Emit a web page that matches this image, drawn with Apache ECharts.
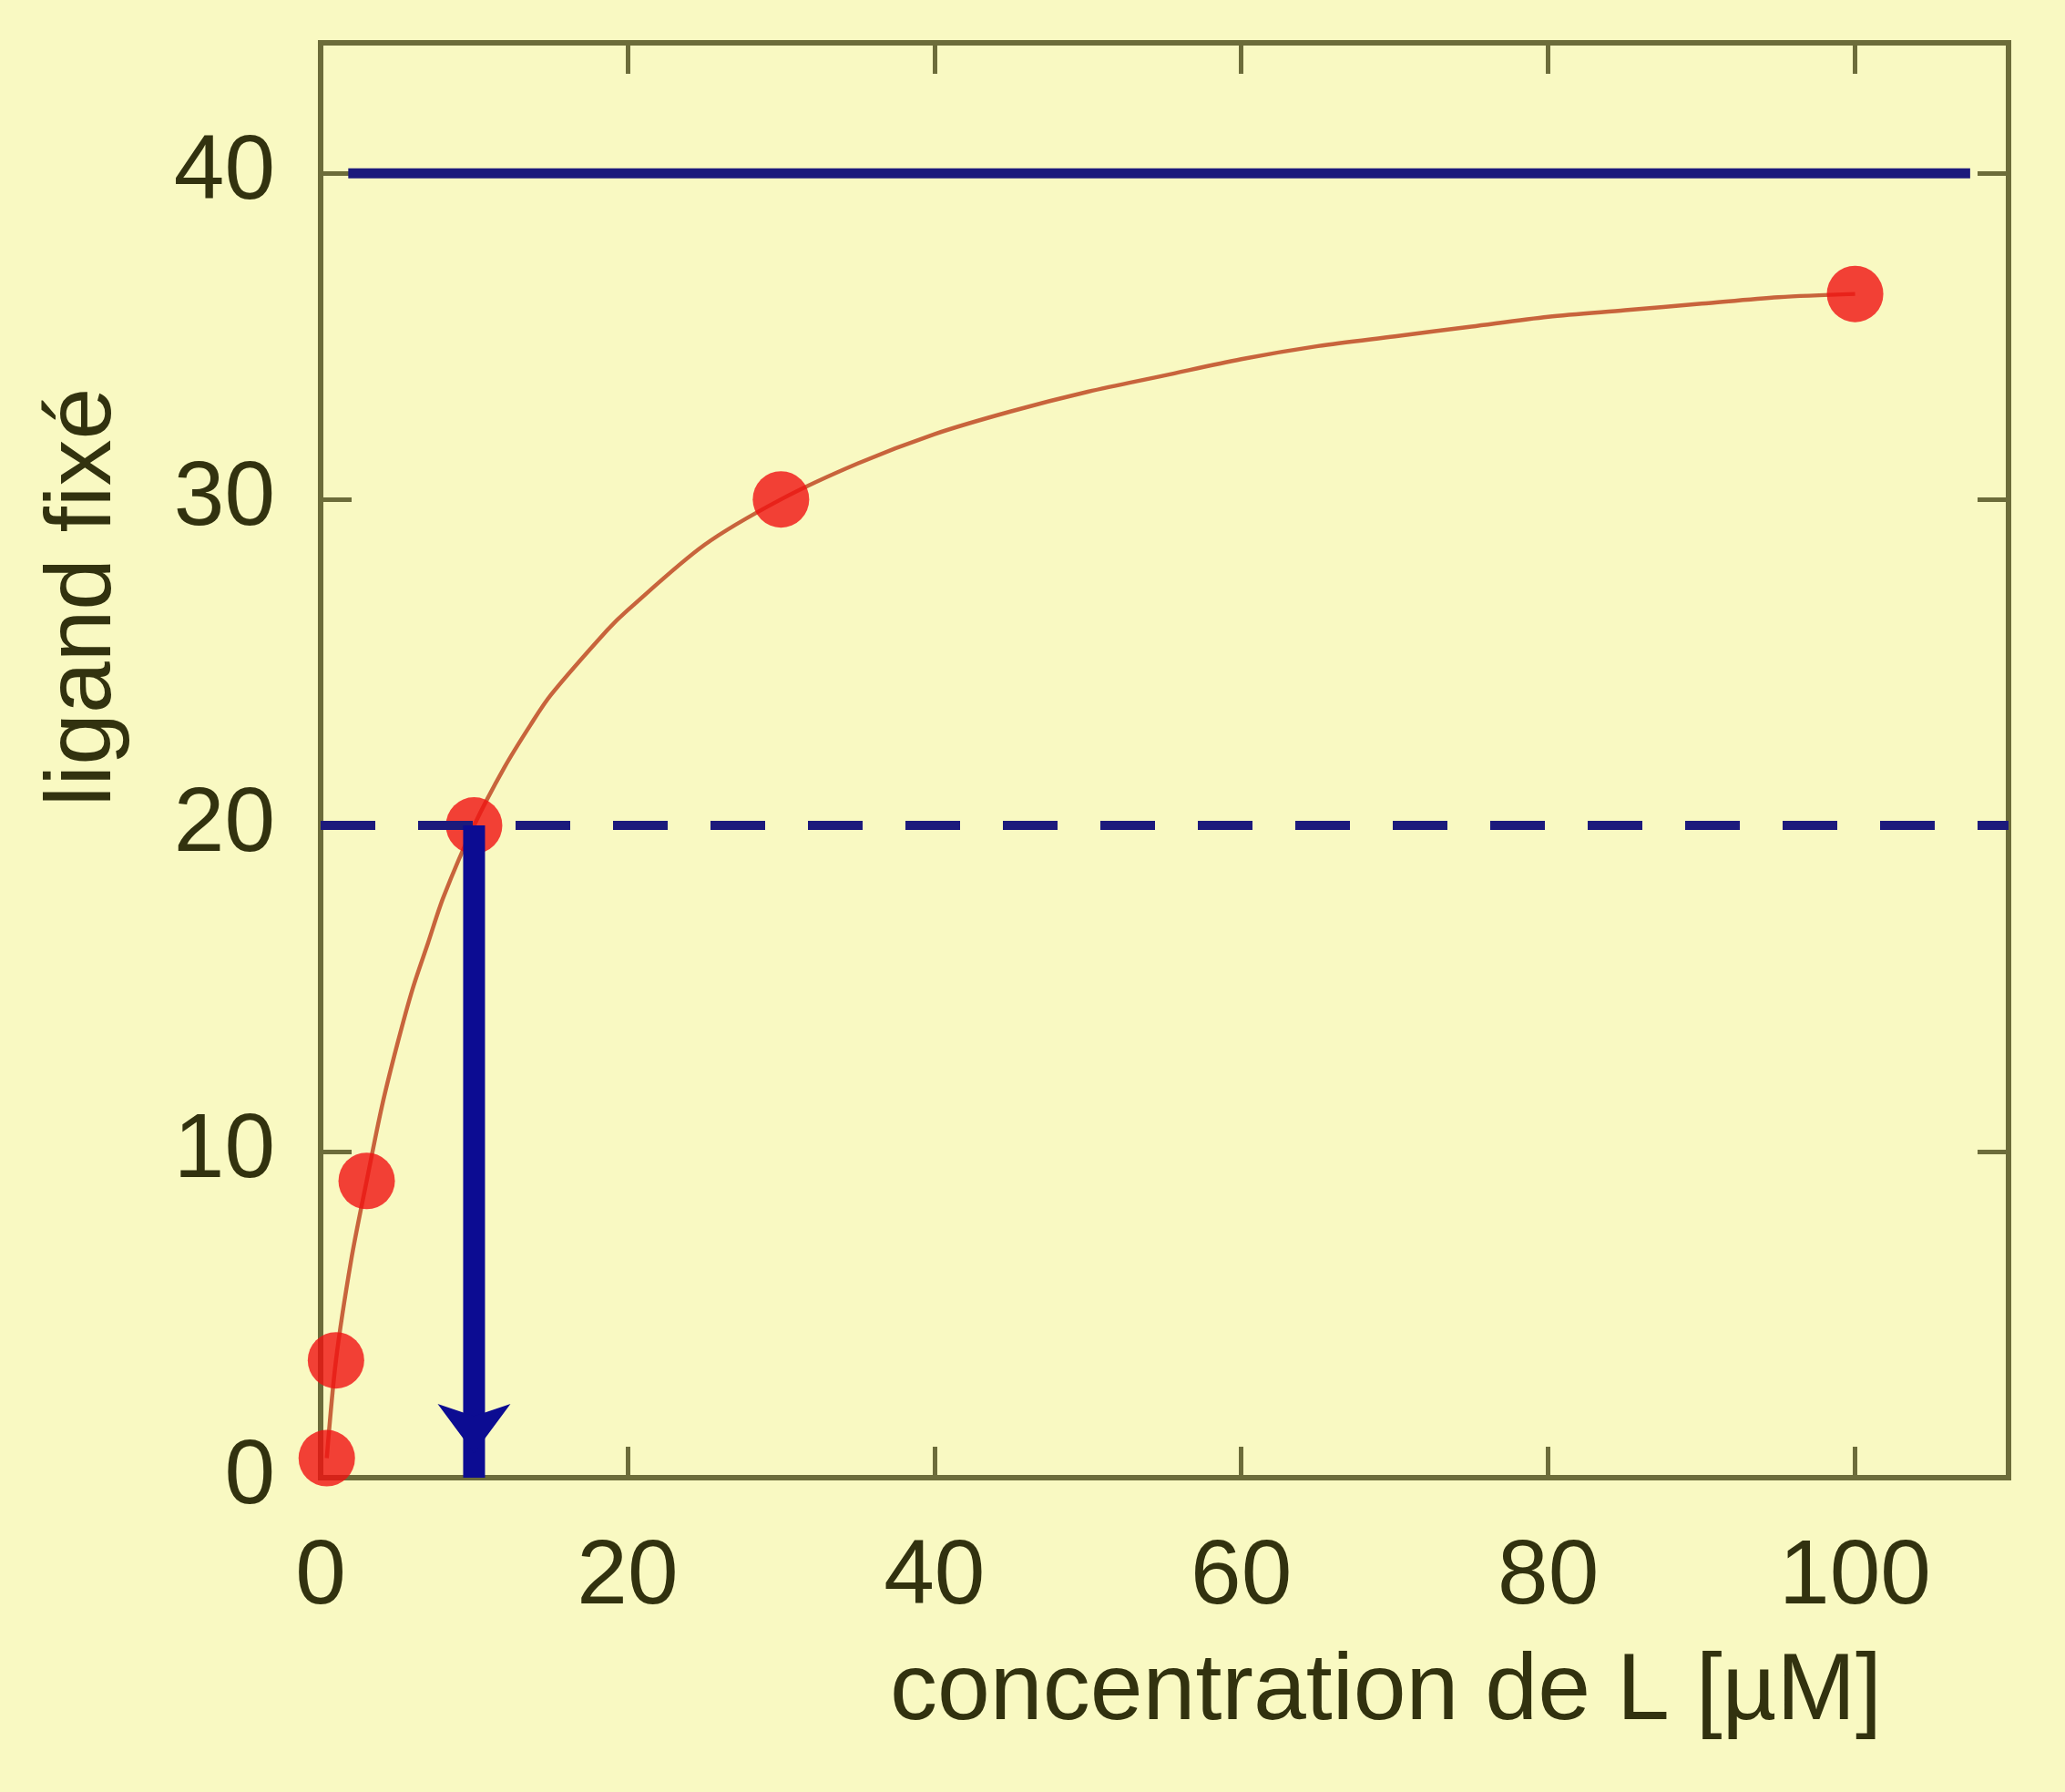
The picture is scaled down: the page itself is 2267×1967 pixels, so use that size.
<!DOCTYPE html>
<html>
<head>
<meta charset="utf-8">
<script src="https://cdn.jsdelivr.net/npm/echarts@6/dist/echarts.min.js"></script>
<style>
html,body{margin:0;padding:0;background:#f9f9c2;}
#chart{width:2267px;height:1967px;}
</style>
</head>
<body>
<div id="chart"></div>
<script>
// ---- data ----
const pointX = [0.4, 1, 3, 10, 30, 100];
const pointY = [0.6, 3.6, 9.1, 20, 30, 36.3];
const curveX = [0.4, 1, 2, 3, 4, 5, 6, 7, 8, 10, 12, 13.7, 15, 18.7, 20, 25, 30, 35, 40, 45, 50, 55, 60, 65, 70, 75, 80, 85, 90, 95, 100];
const curveY = [0.6, 3.6, 6.7, 9.1, 11.4, 13.3, 15.0, 16.4, 17.8, 20, 21.8, 23.1, 24.0, 26.0, 26.6, 28.6, 30, 31.1, 32.0, 32.7, 33.3, 33.8, 34.3, 34.7, 35.0, 35.3, 35.6, 35.8, 36.0, 36.2, 36.3];
const maxLineX = [1.8, 107.5];
const maxLineValue = 40;
const halfLineX = [0, 110];
const halfLineValue = 20;
const arrowX = 10;
const arrowY = [20, 0];
const xTicks = [0, 20, 40, 60, 80, 100];
const yTicks = [0, 10, 20, 30, 40];
const xTitle = 'concentration de L [µM]';
const yTitle = 'ligand fixé';

const olive = '#6c6c3a';
const textCol = '#32320f';
const navy = '#1c1a7c';
const arrowBlue = '#0c0c92';
const font = 'Liberation Sans, Arial, sans-serif';

const chart = echarts.init(document.getElementById('chart'), null, {renderer: 'canvas'});

const pair = (xs, ys) => xs.map((x, i) => [x, ys[i]]);

const baseTick = {show: true, inside: true, length: 34, lineStyle: {color: olive, width: 5}};
const noLine = {show: false, onZero: false};

const option = {
  backgroundColor: '#f9f9c2',
  animation: false,
  grid: {left: 352, right: 62, top: 47, bottom: 345, show: true, borderColor: olive, borderWidth: 6, backgroundColor: 'transparent'},
  xAxis: [
    {
      type: 'value', min: 0, max: 110, interval: 20, position: 'bottom',
      axisLine: noLine, splitLine: {show: false},
      axisTick: baseTick,
      axisLabel: {
        margin: 60, color: textCol, fontSize: 100, fontFamily: font,
        formatter: v => xTicks.includes(v) ? String(v) : ''
      },
      name: xTitle, nameLocation: 'middle', nameGap: 184,
      nameTextStyle: {color: textCol, fontSize: 104, fontFamily: font, padding: [0, 0, 0, 486]}
    },
    {
      type: 'value', min: 0, max: 110, interval: 20, position: 'top',
      axisLine: noLine, splitLine: {show: false},
      axisTick: baseTick, axisLabel: {show: false}
    }
  ],
  yAxis: [
    {
      type: 'value', min: 0, max: 44, interval: 10, position: 'left',
      axisLine: noLine, splitLine: {show: false},
      axisTick: baseTick,
      axisLabel: {
        margin: 50, color: textCol, fontSize: 100, fontFamily: font,
        formatter: v => yTicks.includes(v) ? String(v) : ''
      },
      name: yTitle, nameLocation: 'middle', nameGap: 208, nameRotate: 90,
      nameTextStyle: {color: textCol, fontSize: 102, fontFamily: font, padding: [0, 0, 0, 358]}
    },
    {
      type: 'value', min: 0, max: 44, interval: 10, position: 'right',
      axisLine: noLine, splitLine: {show: false},
      axisTick: baseTick, axisLabel: {show: false}
    }
  ],
  series: [
    {
      name: 'courbe', type: 'line', smooth: 0.3, z: 2,
      data: pair(curveX, curveY), showSymbol: false,
      lineStyle: {color: '#c8643c', width: 4.5}
    },
    {
      name: 'points', type: 'scatter', z: 3, clip: false,
      data: pair(pointX, pointY), symbolSize: 62,
      itemStyle: {color: '#f01212'}
    },
    {
      name: 'Bmax', type: 'line', z: 4, showSymbol: false,
      data: maxLineX.map(x => [x, maxLineValue]),
      lineStyle: {color: navy, width: 11}
    },
    {
      name: 'Bmax/2', type: 'line', z: 4, showSymbol: false, clip: false,
      data: halfLineX.map(x => [x, halfLineValue]),
      lineStyle: {color: navy, width: 10, type: [60, 47]}
    },
    {
      name: 'Kd', type: 'line', z: 5, clip: false,
      data: arrowY.map((y, i) => ({
        value: [arrowX, y],
        symbol: i === arrowY.length - 1 ? 'arrow' : 'none',
        symbolSize: [60, 54],
        symbolRotate: 180,
        symbolOffset: [0, '-50%']
      })),
      showSymbol: true,
      itemStyle: {color: arrowBlue},
      lineStyle: {color: arrowBlue, width: 24}
    }
  ]
};
chart.setOption(option);
</script>
</body>
</html>
